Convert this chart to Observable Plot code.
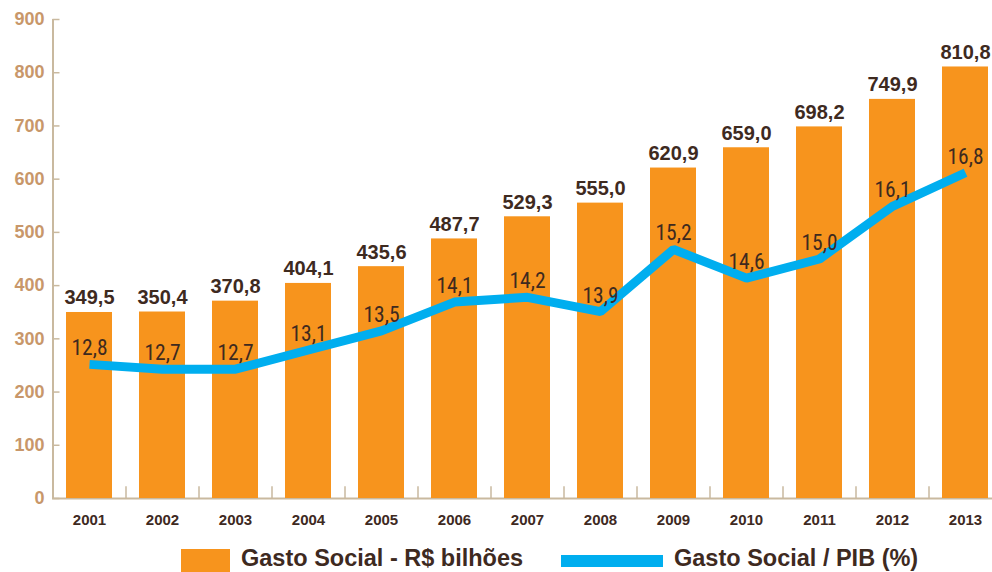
<!DOCTYPE html>
<html>
<head>
<meta charset="utf-8">
<script src="https://cdn.jsdelivr.net/npm/d3@7"></script>
<script src="https://cdn.jsdelivr.net/npm/@observablehq/plot@0.6"></script>
<style>
  html, body { margin: 0; padding: 0; background: #fff; overflow: hidden; }
  #wrap { position: relative; width: 992px; height: 572px; overflow: hidden; }
  #chart svg { max-width: none !important; }
  #legend { position: absolute; left: 0; top: 540px; width: 992px; height: 32px;
            font-family: "Liberation Sans", Arial, sans-serif; font-weight: bold; font-size: 23.5px; color: #3E2A1F; }
  .sw { position: absolute; }
  .lt { position: absolute; line-height: 1; white-space: nowrap; }
</style>
</head>
<body>
<div id="wrap"><div id="chart"></div>
<div id="legend">
  <div class="sw" style="left:181px; top:9px; width:49px; height:26px; background:#F7941D;"></div>
  <div class="lt" style="left:241px; top:7px;">Gasto Social - R$ bilhões</div>
  <div class="sw" style="left:561px; top:15px; width:102px; height:12px; background:#00AEEF;"></div>
  <div class="lt" style="left:674px; top:7px;">Gasto Social / PIB (%)</div>
</div>
</div>
<script>
const years = ["2001","2002","2003","2004","2005","2006","2007","2008","2009","2010","2011","2012","2013"];
const gasto = [349.5, 350.4, 370.8, 404.1, 435.6, 487.7, 529.3, 555.0, 620.9, 659.0, 698.2, 749.9, 810.8];
const pib = [12.8, 12.7, 12.7, 13.1, 13.5, 14.1, 14.2, 13.9, 15.2, 14.6, 15.0, 16.1, 16.8];
const yTicks = [0, 100, 200, 300, 400, 500, 600, 700, 800, 900];
// hidden secondary axis for the % series: 10% .. 20% spans 0 .. 900
const pibAxisMin = 10, pibAxisMax = 20;
const yMax = 900;

const rows = years.map((y, i) => ({year: y, gasto: gasto[i], pib: pib[i]}));
const pibToY = p => (p - pibAxisMin) / (pibAxisMax - pibAxisMin) * yMax;
const fmt = v => v.toFixed(1).replace(".", ",");

const brown = "#3E2A1F", tan = "#C8976A", axisCol = "#C9B99F";
const font = '"Liberation Sans", Arial, sans-serif';

const chart = Plot.plot({
  width: 1001,
  height: 540,
  marginLeft: 52,
  marginRight: 0,
  marginTop: 19,
  marginBottom: 42,
  style: {fontFamily: font, background: "transparent", overflow: "visible", maxWidth: "none"},
  x: {domain: years, range: [52, 1001], paddingInner: 0.37, paddingOuter: 0.185, axis: null},
  y: {domain: [0, yMax], axis: null},
  marks: [
    Plot.ruleY([0], {stroke: axisCol, strokeWidth: 2}),
    Plot.ruleX(years.slice(0, -1), {x: d => d, dx: 36.5, y1: 0, y2: 22, stroke: axisCol, strokeWidth: 1.5}),
    Plot.ruleX([years[0]], {x: d => d, dx: -36.5, y1: 0, y2: yMax, stroke: axisCol, strokeWidth: 2}),
    Plot.tickY(yTicks, {y: d => d, x: () => years[0], dx: -13.5, insetRight: 39, stroke: axisCol, strokeWidth: 1.5}),
    Plot.text(yTicks, {y: d => d, x: () => years[0], dx: -45, textAnchor: "end", text: d => String(d),
      fill: tan, fontSize: 18, fontWeight: "bold"}),
    Plot.barY(rows, {x: "year", y: "gasto", fill: "#F7941D"}),
    Plot.text(rows, {x: "year", y: "gasto", text: d => fmt(d.gasto), dy: -8, lineAnchor: "bottom",
      fill: brown, fontSize: 20, fontWeight: "bold"}),
    Plot.line(rows, {x: "year", y: d => pibToY(d.pib), stroke: "#00AEEF", strokeWidth: 9,
      strokeLinejoin: "miter", strokeLinecap: "butt"}),
    Plot.text(rows, {x: "year", y: d => pibToY(d.pib), text: d => fmt(d.pib), dy: -9, lineAnchor: "bottom",
      fill: brown, fontSize: 21.5, fontFamily: '"Liberation Sans Narrow", "Roboto Condensed", "DejaVu Sans Condensed", sans-serif'}),
    Plot.text(rows, {x: "year", y: () => 0, text: "year", dy: 16, lineAnchor: "top",
      fill: brown, fontSize: 15, fontWeight: "bold"})
  ]
});
document.getElementById("chart").appendChild(chart);
</script>
</body>
</html>
